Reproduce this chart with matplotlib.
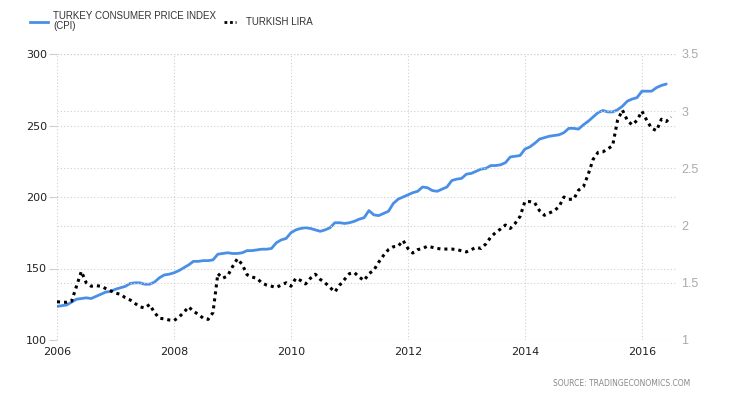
import numpy as np
import matplotlib
matplotlib.use("Agg")
import matplotlib.pyplot as plt
from matplotlib.lines import Line2D

# monthly values, Jan 2006 onwards
cpi = [
    123.5, 124, 124.5, 126.5, 128.5, 129, 129.5, 129, 130.5, 132, 133.5, 134,
    135.5, 136.5, 137.5, 139.5, 140, 140, 139, 139, 140.5, 143.5, 145.5, 146,
    147, 148.5, 150.5, 152.5, 155, 155, 155.5, 155.5, 156, 160, 160.5, 161,
    160.5, 160.5, 161, 162.5, 162.5, 163, 163.5, 163.5, 164, 168, 170, 171,
    175, 177, 178, 178.5, 178, 177, 176, 177, 178.5, 182, 182, 181.5,
    182, 183, 184.5, 185.5, 190.5, 187.5, 187, 188.5, 190, 195.5, 198.5, 200,
    201.5, 203, 204, 207, 206.5, 204.5, 204, 205.5, 207, 211.5, 212.5, 213,
    216, 216.5, 218, 219.5, 220, 222, 222, 222.5, 224, 228, 228.5, 229,
    233.5, 235, 237.5, 240.5, 241.5, 242.5, 243, 243.5, 245, 248, 248, 247.5,
    250.5, 253, 256, 259, 260.5, 259.5, 259.5, 261, 263.5, 267, 268.5, 269.5,
    274, 274, 274, 276.5, 278, 279,
]

lira = [
    1.335, 1.33, 1.33, 1.34, 1.47, 1.60, 1.50, 1.47, 1.475, 1.47, 1.45, 1.43,
    1.41, 1.40, 1.37, 1.35, 1.32, 1.29, 1.28, 1.31, 1.24, 1.19, 1.185, 1.175,
    1.17, 1.20, 1.24, 1.29, 1.25, 1.225, 1.19, 1.18, 1.24, 1.58, 1.54, 1.56,
    1.64, 1.71, 1.66, 1.57, 1.55, 1.54, 1.50, 1.48, 1.47, 1.46, 1.48, 1.50,
    1.47, 1.54, 1.52, 1.49, 1.54, 1.575, 1.53, 1.50, 1.46, 1.42, 1.48, 1.53,
    1.58, 1.59, 1.55, 1.52, 1.58, 1.61, 1.68, 1.74, 1.79, 1.815, 1.82, 1.87,
    1.80, 1.76, 1.79, 1.80, 1.82, 1.81, 1.80, 1.795, 1.795, 1.795, 1.79, 1.78,
    1.77, 1.79, 1.81, 1.80, 1.84, 1.90, 1.94, 1.97, 2.005, 1.975, 2.02, 2.08,
    2.21, 2.21, 2.20, 2.13, 2.09, 2.11, 2.13, 2.165, 2.25, 2.23, 2.23, 2.31,
    2.34, 2.45, 2.58, 2.64, 2.645, 2.67, 2.70, 2.92, 3.01, 2.92, 2.88, 2.92,
    3.00, 2.92, 2.85, 2.83, 2.93, 2.91, 2.95,
]

cpi_x = 2006 + np.arange(len(cpi)) / 12
lira_x = 2006 + np.arange(len(lira)) / 12

left_ticks = [100, 150, 200, 250, 300]
right_ticks = [1, 1.5, 2, 2.5, 3, 3.5]
right_labels = ["1", "1.5", "2", "2.5", "3", "3.5"]
year_ticks = [2006, 2008, 2010, 2012, 2014, 2016]

blue = "#4a8fe7"
grid_col = "#cfcfcf"

fig = plt.figure(figsize=(7.3, 4), dpi=100)
ax = fig.add_axes([57 / 730, 60 / 400, 620 / 730, 286 / 400])
ax2 = ax.twinx()

ax.plot(cpi_x, cpi, color=blue, lw=2, solid_capstyle="round", zorder=3)
ax2.plot(lira_x, lira, color="black", lw=2.2, linestyle=(0, (1, 1.3)),
         dash_capstyle="butt", zorder=3)

ax.set_xlim(2006, 2016.6)
ax.set_ylim(100, 300)
ax2.set_ylim(1, 3.5)

ax.set_xticks(year_ticks)
ax.set_xticklabels([str(y) for y in year_ticks])
ax.set_yticks(left_ticks)
ax2.set_yticks(right_ticks)
ax2.set_yticklabels(right_labels)

for a in (ax, ax2):
    for s in a.spines.values():
        s.set_visible(False)

ax.grid(True, axis="both", color=grid_col, linestyle=(0, (1, 2)), lw=0.8)
ax2.grid(True, axis="y", color=grid_col, linestyle=(0, (1, 2)), lw=0.8)
ax.set_axisbelow(True)

ax.tick_params(axis="y", length=6, color=grid_col, pad=1, labelsize=8,
               labelcolor="#222222")
ax.tick_params(axis="x", length=0, pad=5, labelsize=8, labelcolor="#222222")
ax2.tick_params(axis="y", length=0, pad=3, labelsize=9, labelcolor="#aaaaaa")
for lbl in ax.get_yticklabels() + ax.get_xticklabels():
    lbl.set_family("DejaVu Sans")
for lbl in ax2.get_yticklabels():
    lbl.set_family("Liberation Sans")

# legend drawn in figure coords
fig.add_artist(Line2D([30 / 730, 48 / 730], [1 - 22 / 400, 1 - 22 / 400],
                      color=blue, lw=2))
fig.text(53 / 730, 1 - 21 / 400, "TURKEY CONSUMER PRICE INDEX\n(CPI)",
         fontsize=7, color="#333333", family="Liberation Sans",
         va="center", ha="left", linespacing=1.1)
fig.add_artist(Line2D([224 / 730, 236 / 730], [1 - 22 / 400, 1 - 22 / 400],
                      color="black", lw=2, linestyle=(0, (1, 1))))
fig.text(246 / 730, 1 - 22 / 400, "TURKISH LIRA", fontsize=7, color="#333333",
         family="Liberation Sans", va="center", ha="left")

fig.text(690 / 730, 1 - 383 / 400, "SOURCE: TRADINGECONOMICS.COM", fontsize=5.5,
         color="#888888", family="DejaVu Sans", ha="right", va="center")

fig.savefig("out.png", dpi=100)
